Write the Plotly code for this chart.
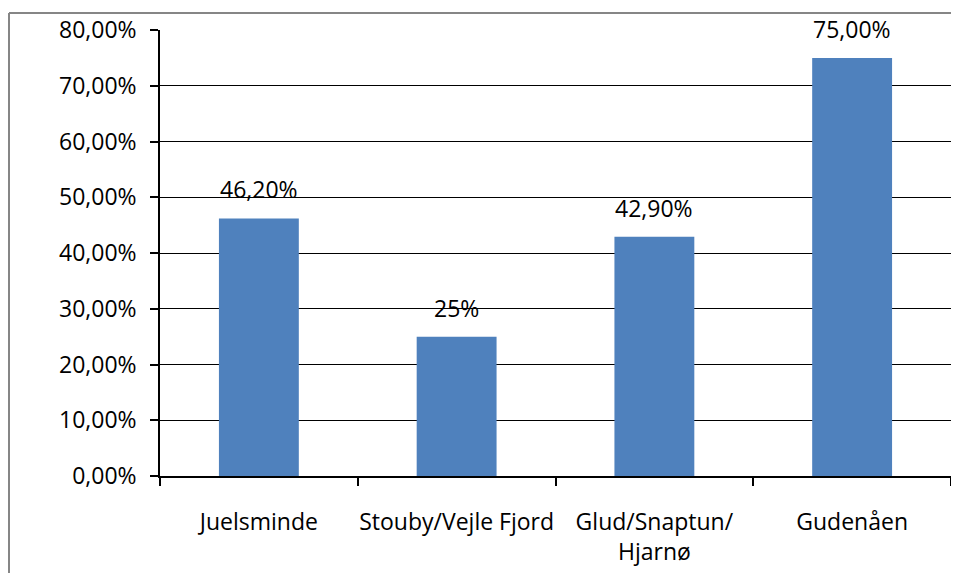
import plotly.graph_objects as go

categories = ["Juelsminde", "Stouby/Vejle Fjord", "Glud/Snaptun/<br>Hjarnø", "Gudenåen"]
values = [0.462, 0.25, 0.429, 0.75]
value_labels = ["46,20%", "25%", "42,90%", "75,00%"]
y_ticks = [0, 0.1, 0.2, 0.3, 0.4, 0.5, 0.6, 0.7, 0.8]

FONT = "Open Sans"
fig = go.Figure()
fig.add_trace(go.Bar(x=categories, y=values, marker=dict(color="#4F81BD", line=dict(width=0)),
                     hoverinfo="skip"))

for c, v, t in zip(categories, values, value_labels):
    fig.add_annotation(x=c, y=v, text=t, showarrow=False, yanchor="middle", yshift=29,
                       font=dict(family=FONT, size=23, color="black"))

PW, PH = 791, 446
bx = (9 - 160) / PW
by = (476 - 13) / PH
# outer border: only left and top edges are visible in the chart
fig.add_shape(type="line", xref="paper", yref="paper", x0=bx, x1=bx, y0=-0.3, y1=by,
              line=dict(color="#868686", width=2), layer="below")
fig.add_shape(type="line", xref="paper", yref="paper", x0=bx, x1=1.05, y0=by, y1=by,
              line=dict(color="#868686", width=2), layer="below")

fig.update_layout(
    width=943, height=565,
    margin=dict(l=152, r=0, t=22, b=97),
    paper_bgcolor="white", plot_bgcolor="white",
    separators=",.",
    bargap=0.596,
    showlegend=False,
    font=dict(family=FONT, size=23, color="black"),
)
fig.update_yaxes(range=[0, 0.8], tickvals=y_ticks, tickformat=".2%",
                 showgrid=True, gridcolor="black", gridwidth=1.2,
                 showline=True, linecolor="black", linewidth=1.5,
                 ticks="outside", ticklen=8, tickcolor="black", tickwidth=1.5,
                 ticklabelstandoff=9, zeroline=False, fixedrange=True, automargin=False)
fig.update_xaxes(showline=True, linecolor="black", linewidth=1.5,
                 ticks="outside", ticklen=8, tickcolor="black", tickwidth=1.5,
                 tickson="boundaries", ticklabelstandoff=25, tickangle=0,
                 showgrid=False, fixedrange=True, automargin=False)

fig.write_html("out.html", config={"displayModeBar": False})
